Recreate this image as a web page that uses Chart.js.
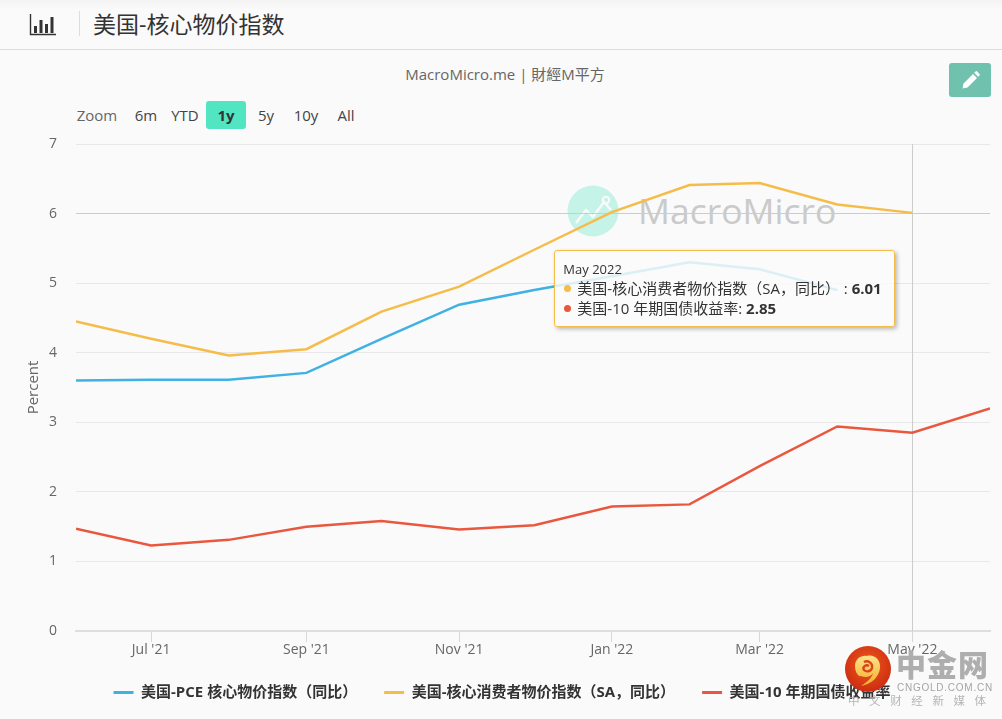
<!DOCTYPE html>
<html lang="zh">
<head>
<meta charset="utf-8">
<title>美国-核心物价指数</title>
<script src="https://cdn.jsdelivr.net/npm/chart.js@4"></script>
<style>
  html, body { margin: 0; padding: 0; background: #fafafa; }
  body { width: 1002px; height: 719px; position: relative; overflow: hidden; color: #333;
    font-family: "Open Sans", "Noto Sans CJK SC", sans-serif; }
  .abs { position: absolute; white-space: nowrap; }
  #topbar { left: 0; top: 0; width: 1002px; height: 49px; border-bottom: 1px solid #dcdcdc;
    background: linear-gradient(#f4f4f4, #fafafa 10px); }
  #divider { left: 79px; top: 11px; width: 1px; height: 25px; background: #ddd; }
  #title { left: 93px; top: 8px; font-size: 23px; line-height: 33px; color: #333; }
  #credit { left: 305px; width: 400px; top: 64px; text-align: center; font-size: 15px; line-height: 20px; color: #666; }
  #editBtn { left: 949px; top: 63px; width: 42px; height: 34px; border-radius: 3px; background: #70c1ae; }
  #ranges span { position: absolute; top: 101px; height: 28px; line-height: 28px; font-size: 15px; color: #444; text-align: center; }
  #ranges .zoom { color: #666; left: 75px; }
  #ranges .on { background: #52e5c2; border-radius: 3px; font-weight: 700; color: #333; }
  #markText { left: 638px; top: 184px; font-size: 35.5px; line-height: 52px; color: #cacaca; }
  #chart { position: absolute; left: 0; top: 0; }
  #tip { position: absolute; box-sizing: border-box; width: 341px; height: 77px; padding: 9px 8px 0;
    background: rgba(250,250,250,0.84); border: 1.5px solid #f6bc4a; border-radius: 3px;
    box-shadow: 2px 2px 4px rgba(0,0,0,0.28); font-size: 15px; color: #333; white-space: nowrap; }
  #tip .when { font-size: 13px; line-height: 18px; }
  #tip .row { line-height: 20px; }
  #tip i { display: inline-block; width: 7px; height: 7px; border-radius: 50%; margin: 0 6px 2px 1px; }
  #goldName { left: 896px; top: 644px; font-size: 30px; line-height: 42px; font-weight: 900; color: #aeaeae; letter-spacing: 1px; }
  #goldUrl { left: 897px; top: 681px; font-size: 10px; line-height: 14px; color: #a5a5a5; letter-spacing: 0.75px; font-family: "Liberation Sans", sans-serif; }
  #goldTag { left: 848px; top: 693px; font-size: 11.5px; line-height: 15px; color: #b5b5b5; letter-spacing: 9.6px; }
</style>
</head>
<body>
<div class="abs" id="topbar"></div>
<svg class="abs" style="left:29px;top:13px" width="28" height="23" viewBox="0 0 28 23">
  <path d="M1.5 1v20.5H27" fill="none" stroke="#333" stroke-width="1.4"/>
  <path d="M5 13h3v7H5zM10.5 7h3v13h-3zM16 11h3v9h-3zM21.5 4h3v16h-3z" fill="#333"/>
</svg>
<div class="abs" id="divider"></div>
<div class="abs" id="title">美国-核心物价指数</div>
<div class="abs" id="credit">MacroMicro.me | 財經M平方</div>
<div class="abs" id="editBtn">
  <svg width="42" height="34" viewBox="0 0 42 34">
    <path d="M13.5 25.5l1-5 9.5-9.5 4 4-9.5 9.5zM25.2 9.8l1.3-1.3q.8-.8 1.6 0l2.4 2.4q.8.8 0 1.6l-1.3 1.3z" fill="#fff"/>
  </svg>
</div>
<div id="ranges">
  <span class="zoom" style="width:44px">Zoom</span>
  <span style="left:130px;width:32px">6m</span>
  <span style="left:168px;width:34px">YTD</span>
  <span class="on" style="left:206px;width:40px">1y</span>
  <span style="left:250px;width:32px">5y</span>
  <span style="left:290px;width:32px">10y</span>
  <span style="left:330px;width:32px">All</span>
</div>

<svg class="abs" style="left:567px;top:185px" width="52" height="52" viewBox="0 0 52 52">
  <circle cx="26" cy="26" r="25.5" fill="#c5f3e8"/>
  <path d="M9 38l10-13 7 7 11-15 7 8" fill="none" stroke="#fafafa" stroke-width="2.4"/>
  <circle cx="39" cy="15" r="3.2" fill="none" stroke="#fafafa" stroke-width="2"/>
</svg>
<div class="abs" id="markText">MacroMicro</div>

<canvas id="chart" width="1002" height="719"></canvas>
<div id="tip"></div>

<svg class="abs" style="left:845px;top:646px" width="46" height="46" viewBox="0 0 46 46">
  <defs>
    <radialGradient id="red" cx="50%" cy="40%" r="60%">
      <stop offset="0" stop-color="#ee5a1a"/><stop offset="1" stop-color="#cc2c12"/>
    </radialGradient>
    <linearGradient id="gold" x1="0" y1="0" x2="0" y2="1">
      <stop offset="0" stop-color="#fde28a"/><stop offset="1" stop-color="#f3ae2c"/>
    </linearGradient>
  </defs>
  <circle cx="23" cy="23" r="23" fill="url(#red)"/>
  <path d="M10 20c0-7 6-11 12-10 7-2 14 4 13 12-1 9-8 16-19 18 6-4 11-8 12-13-2 4-8 5-12 3-2 1-6-3-6-10z" fill="url(#gold)"/>
  <path d="M24 20c-3-2-7 1-5 4 2 2 7 2 8-2 1-5-4-8-8-6" fill="none" stroke="#d8461a" stroke-width="2.4"/>
</svg>
<div class="abs" id="goldName">中金网</div>
<div class="abs" id="goldUrl">CNGOLD.COM.CN</div>
<div class="abs" id="goldTag">中文财经新媒体</div>

<script>
  const months = ['2021-06', '2021-07', '2021-08', '2021-09', '2021-10', '2021-11', '2021-12',
    '2022-01', '2022-02', '2022-03', '2022-04', '2022-05', '2022-06'];
  const pceCore = [3.6, 3.61, 3.61, 3.71, 4.2, 4.69, 4.9, 5.1, 5.3, 5.2, 4.9, null, null];
  const cpiCore = [4.45, 4.2, 3.96, 4.05, 4.59, 4.95, 5.48, 6.02, 6.41, 6.44, 6.13, 6.01, null];
  const tenYear = [1.47, 1.23, 1.31, 1.5, 1.58, 1.46, 1.52, 1.79, 1.82, 2.37, 2.94, 2.85, 3.2];
  const tickMonths = ['2021-07', '2021-09', '2021-11', '2022-01', '2022-03', '2022-05'];
  const yTicks = [0, 1, 2, 3, 4, 5, 6, 7];
  const monthNames = ['Jan', 'Feb', 'Mar', 'Apr', 'May', 'Jun', 'Jul', 'Aug', 'Sep', 'Oct', 'Nov', 'Dec'];
  const hoverMonth = '2022-05';

  const BLUE = '#3fb1e3', YELLOW = '#f6bc4a', RED = '#e9573f';
  const FONT = '"Open Sans", "Noto Sans CJK SC", sans-serif';

  function toTime(m) {
    const [y, mo] = m.split('-').map(Number);
    return Date.UTC(y, mo - 1, 1);
  }
  function points(values) {
    return months.map((m, i) => ({ x: toTime(m), y: values[i] }));
  }

  // crosshair behind the lines at the hovered month
  const crosshair = {
    id: 'crosshair',
    beforeDatasetsDraw(chart) {
      const { ctx, chartArea, scales } = chart;
      const i = months.indexOf(hoverMonth);
      const x = Math.round(scales.x.getPixelForValue(toTime(hoverMonth))) + 0.5;
      const y = Math.round(scales.y.getPixelForValue(cpiCore[i])) + 0.5;
      ctx.save();
      ctx.strokeStyle = '#cccccc';
      ctx.lineWidth = 1;
      ctx.beginPath();
      ctx.moveTo(x, chartArea.top);
      ctx.lineTo(x, chartArea.bottom);
      ctx.moveTo(chartArea.left, y);
      ctx.lineTo(chartArea.right, y);
      ctx.stroke();
      ctx.restore();
    }
  };

  const chart = new Chart(document.getElementById('chart'), {
    type: 'line',
    data: {
      datasets: [
        { label: '美国-PCE 核心物价指数（同比）', data: points(pceCore), borderColor: BLUE, backgroundColor: BLUE },
        { label: '美国-核心消费者物价指数（SA，同比）', data: points(cpiCore), borderColor: YELLOW, backgroundColor: YELLOW },
        { label: '美国-10 年期国债收益率', data: points(tenYear), borderColor: RED, backgroundColor: RED }
      ]
    },
    options: {
      responsive: false,
      animation: false,
      parsing: false,
      events: [],
      layout: { padding: { top: 144, right: 12, left: 14, bottom: 9 } },
      elements: {
        line: { borderWidth: 2.5, tension: 0 },
        point: { radius: 0 }
      },
      scales: {
        x: {
          type: 'linear',
          min: toTime(months[0]),
          max: toTime(months[months.length - 1]),
          afterBuildTicks(axis) {
            axis.ticks = tickMonths.map(m => ({ value: toTime(m) }));
          },
          // a bit shorter than the default so the legend sits closer; labels still fit
          afterFit(axis) { axis.height = 27; },
          grid: { drawOnChartArea: false, color: '#d8d8d8', tickLength: 11 },
          border: { color: '#dedede', width: 2 },
          ticks: {
            maxRotation: 0,
            autoSkip: false,
            padding: 0,
            color: '#666',
            font: { family: FONT, size: 14 },
            callback(v) {
              const d = new Date(v);
              return monthNames[d.getUTCMonth()] + " '" + String(d.getUTCFullYear()).slice(2);
            }
          }
        },
        y: {
          min: 0,
          max: 7,
          afterBuildTicks(axis) {
            axis.ticks = yTicks.map(v => ({ value: v }));
          },
          afterFit(axis) { axis.width = 62; },
          grid: { color: '#e8e8e8', tickLength: 0 },
          border: { display: false },
          ticks: { padding: 19, color: '#666', font: { family: FONT, size: 14 } },
          title: {
            display: true,
            text: 'Percent',
            color: '#666',
            padding: { top: 11, bottom: 0 },
            font: { family: FONT, size: 15 }
          }
        }
      },
      plugins: {
        tooltip: { enabled: false },
        legend: {
          position: 'bottom',
          labels: {
            boxWidth: 20,
            boxHeight: 3,
            padding: 27,
            color: '#333',
            font: { family: FONT, size: 15, weight: '700' },
            generateLabels(c) {
              // flat swatches: no stroke around the legend box
              return Chart.defaults.plugins.legend.labels.generateLabels(c)
                .map(item => ({ ...item, lineWidth: 0 }));
            }
          }
        }
      }
    },
    plugins: [crosshair]
  });

  // hover box for the marked month, filled from the same series the lines use
  function showTip(c, month) {
    const i = months.indexOf(month);
    const d = new Date(toTime(month));
    const tip = document.getElementById('tip');
    let html = '<div class="when">' + monthNames[d.getUTCMonth()] + ' ' + d.getUTCFullYear() + '</div>';
    c.data.datasets.forEach(ds => {
      const v = ds.data[i].y;
      if (v === null) return;
      const gap = ds.label.endsWith('）') ? ' : ' : ': ';
      html += '<div class="row"><i style="background:' + ds.borderColor + '"></i>' + ds.label + gap +
        '<b>' + v.toFixed(2) + '</b></div>';
    });
    tip.innerHTML = html;
    tip.style.left = (c.scales.x.getPixelForValue(toTime(month)) - 358) + 'px';
    tip.style.top = '250px';
  }
  showTip(chart, hoverMonth);
</script>
</body>
</html>
